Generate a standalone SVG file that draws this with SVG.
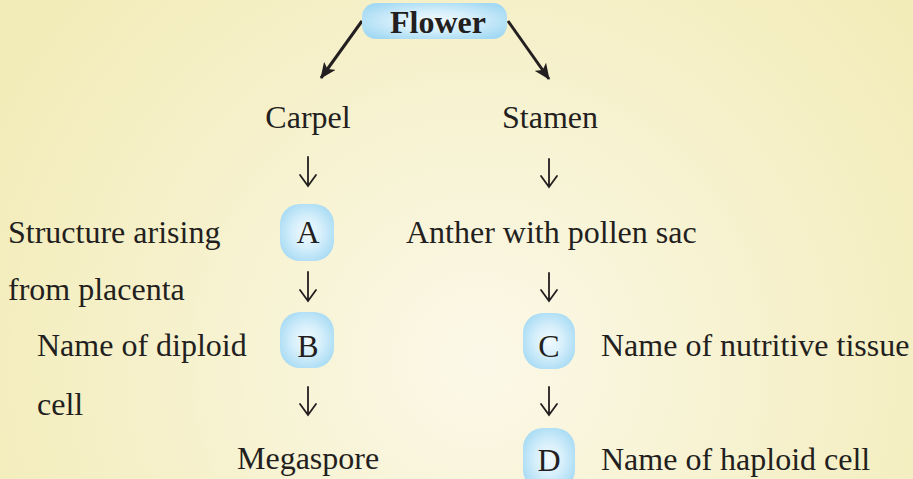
<svg xmlns="http://www.w3.org/2000/svg" width="913" height="479" viewBox="0 0 913 479">
<defs>
<radialGradient id="bg" gradientUnits="userSpaceOnUse" cx="480" cy="360" r="560">
<stop offset="0" stop-color="#FBF8E8"/>
<stop offset="0.55" stop-color="#F6F1CC"/>
<stop offset="1" stop-color="#F2ECB8"/>
</radialGradient>
<radialGradient id="blue" cx="0.5" cy="0.5" r="0.6">
<stop offset="0" stop-color="#F2FAFE"/>
<stop offset="0.45" stop-color="#D6EFFB"/>
<stop offset="1" stop-color="#A3D9F3"/>
</radialGradient>
<marker id="ah" viewBox="0 0 16 14" refX="15" refY="7" markerWidth="16" markerHeight="14" markerUnits="userSpaceOnUse" orient="auto">
<path d="M0,0 L16,7 L0,14 L4,7 Z" fill="#231F20"/>
</marker>
<style>
text{font-family:"Liberation Serif","Times New Roman",serif;font-size:32px;fill:#231F20}
.c{text-anchor:middle}
.b{font-weight:bold}
.box{fill:url(#blue)}
.diag{stroke:#231F20;stroke-width:3;fill:none;marker-end:url(#ah)}
.down{stroke:#231F20;stroke-width:1.8;fill:none;stroke-linecap:round}
</style>
</defs>
<rect width="913" height="479" fill="url(#bg)"/>
<g id="connectors">
<line class="diag" x1="362" y1="21" x2="321" y2="78"/>
<line class="diag" x1="508" y1="21" x2="549" y2="79"/>
<path class="down" d="M308,157 V185 M300,175 L308,186 L316,175"/>
<path class="down" d="M308,272 V300 M300,290 L308,301 L316,290"/>
<path class="down" d="M308,387 V414 M300,404 L308,415 L316,404"/>
<path class="down" d="M549,159 V186 M541,176 L549,187 L557,176"/>
<path class="down" d="M549,273 V300 M541,290 L549,301 L557,290"/>
<path class="down" d="M549,387 V414 M541,404 L549,415 L557,404"/>
</g>
<g id="flower">
<rect class="box" x="362" y="3" width="145" height="36" rx="14"/>
<text class="c b" x="438" y="33">Flower</text>
</g>
<g id="carpel"><text class="c" x="308" y="128">Carpel</text></g>
<g id="stamen"><text class="c" x="550" y="128">Stamen</text></g>
<g id="nodeA">
<rect class="box" x="280" y="204" width="54" height="57" rx="20"/>
<text class="c" x="308" y="243">A</text>
</g>
<g id="nodeB">
<rect class="box" x="280" y="312" width="54" height="56" rx="20"/>
<text class="c" x="308" y="357">B</text>
</g>
<g id="nodeC">
<rect class="box" x="523" y="313" width="52" height="56" rx="20"/>
<text class="c" x="549" y="357">C</text>
</g>
<g id="nodeD">
<rect class="box" x="523" y="428" width="52" height="62" rx="20"/>
<text class="c" x="549" y="471">D</text>
</g>
<g id="anther"><text x="406" y="243">Anther with pollen sac</text></g>
<g id="megaspore"><text x="237" y="469">Megaspore</text></g>
<g id="labelA"><text x="8" y="243">Structure arising</text><text x="8" y="300">from placenta</text></g>
<g id="labelB"><text x="37" y="356">Name of diploid</text><text x="37" y="415">cell</text></g>
<g id="labelC"><text x="601" y="356">Name of nutritive tissue</text></g>
<g id="labelD"><text x="601" y="470">Name of haploid cell</text></g>
</svg>
